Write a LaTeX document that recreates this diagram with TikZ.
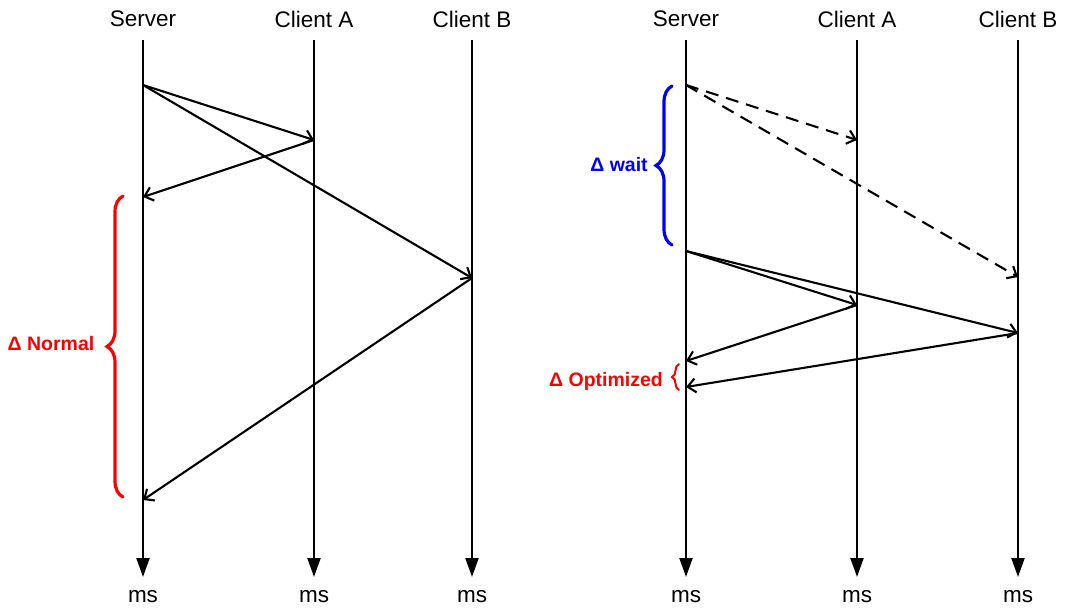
\documentclass[tikz,border=0pt]{standalone}
\usepackage{fontspec}
\setmainfont{Liberation Sans}
\usetikzlibrary{arrows.meta,decorations.pathreplacing}
\begin{document}
\begin{tikzpicture}[x=1pt,y=-1pt,
  hdr/.style={font=\fontsize{22.5}{24}\selectfont, inner sep=0pt},
  life/.style={line width=2.2pt,-{Triangle[length=19pt,width=13pt]}},
  msg/.style={line width=2.1pt,-{Straight Barb[length=8pt,width=14pt]}},
  dmsg/.style={msg,dash pattern=on 13pt off 8pt},
  bracedeco/.style={decorate,decoration={brace,amplitude=#1},line width=3.2pt,line cap=round},
  blbl/.style={font=\fontsize{19.5}{21}\selectfont\bfseries, inner sep=0pt}]
\useasboundingbox (0,0) rectangle (1070,610);
% ---------- left diagram ----------
\node[hdr] (LS) at (143,19) {Server};
\node[hdr] (LA) at (314,19) {Client A};
\node[hdr] (LB) at (472,19) {Client B};
\node[hdr] (LSm) at (143,597) {ms};
\node[hdr] (LAm) at (314,597) {ms};
\node[hdr] (LBm) at (472,597) {ms};
\coordinate (LS0) at (143,40); \coordinate (LS1) at (143,577);
\coordinate (LA0) at (314,40); \coordinate (LA1) at (314,577);
\coordinate (LB0) at (472,40); \coordinate (LB1) at (472,577);
\draw[life] (LS0) -- (LS1);
\draw[life] (LA0) -- (LA1);
\draw[life] (LB0) -- (LB1);
\coordinate (ls1) at (143,85);
\coordinate (la1) at (314,140);
\coordinate (ls2) at (143,197);
\coordinate (lb1) at (472,278);
\coordinate (ls3) at (143,500);
\draw[msg] (ls1) -- (la1);
\draw[msg] (la1) -- (ls2);
\draw[msg] (ls1) -- (lb1);
\draw[msg] (lb1) -- (ls3);
\coordinate (nb0) at (123,497); \coordinate (nb1) at (123,196);
\draw[red,bracedeco=16pt] (nb0) -- (nb1);
\node[blbl,red] (nlbl) at (51,344) {Δ Normal};
% ---------- right diagram ----------
\node[hdr] (RS) at (686,19) {Server};
\node[hdr] (RA) at (857,19) {Client A};
\node[hdr] (RB) at (1018,19) {Client B};
\node[hdr] (RSm) at (686,597) {ms};
\node[hdr] (RAm) at (857,597) {ms};
\node[hdr] (RBm) at (1018,597) {ms};
\coordinate (RS0) at (686,40); \coordinate (RS1) at (686,577);
\coordinate (RA0) at (857,40); \coordinate (RA1) at (857,577);
\coordinate (RB0) at (1018,40); \coordinate (RB1) at (1018,577);
\draw[life] (RS0) -- (RS1);
\draw[life] (RA0) -- (RA1);
\draw[life] (RB0) -- (RB1);
\coordinate (rs1) at (686,85);
\coordinate (ra1) at (857,140);
\coordinate (rb1) at (1018,277);
\draw[dmsg] (rs1) -- (ra1);
\draw[dmsg] (rs1) -- (rb1);
\coordinate (rs2) at (686,251);
\coordinate (ra2) at (857,305);
\coordinate (rb2) at (1018,333);
\coordinate (rs3) at (686,361);
\coordinate (rs4) at (686,387);
\draw[msg] (rs2) -- (ra2);
\draw[msg] (rs2) -- (rb2);
\draw[msg] (ra2) -- (rs3);
\draw[msg] (rb2) -- (rs4);
\coordinate (wb0) at (672,245); \coordinate (wb1) at (672,86);
\draw[blue,bracedeco=16pt] (wb0) -- (wb1);
\node[blbl,blue] (wlbl) at (619,165) {Δ wait};
\coordinate (ob0) at (679,390); \coordinate (ob1) at (679,364);
\draw[red,line width=2pt,decorate,decoration={brace,amplitude=7pt},line cap=round] (ob0) -- (ob1);
\node[blbl,red] (olbl) at (606,381) {Δ Optimized};
\end{tikzpicture}
\end{document}
